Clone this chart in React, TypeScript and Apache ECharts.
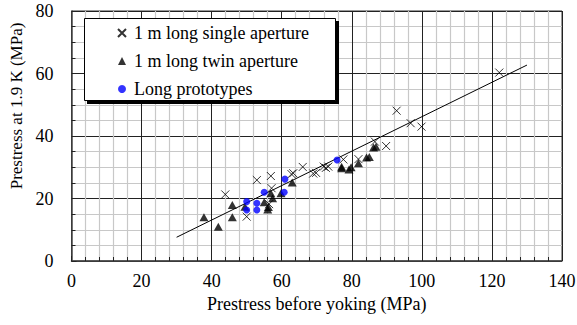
import React, { useEffect, useRef } from "react";
import * as echarts from "echarts";

const xTickValues = [0, 20, 40, 60, 80, 100, 120, 140];
const yTickValues = [0, 20, 40, 60, 80];

const singleAperture: [number, number][] = [
  [43.9, 21.3], [50.0, 14.2], [52.9, 25.9], [56.4, 18.2], [56.9, 27.2],
  [57.1, 23.3], [62.8, 27.8], [63.3, 28.1], [66.0, 30.1], [69.0, 28.0],
  [69.8, 28.2], [72.0, 30.2], [72.6, 29.8], [73.3, 30.2], [77.6, 32.5],
  [81.9, 32.6], [86.6, 38.2], [89.8, 36.8], [92.8, 48.1], [96.8, 44.1],
  [99.9, 43.0], [122.1, 60.3],
];

const twinAperture: [number, number][] = [
  [37.8, 14.0], [41.9, 11.0], [45.9, 17.9], [45.9, 14.0], [49.5, 17.4],
  [55.0, 18.8], [56.0, 16.5], [56.2, 17.3], [56.9, 21.7], [57.4, 20.1],
  [59.8, 21.7], [63.0, 25.1], [77.1, 30.2], [77.1, 29.7], [79.2, 29.3],
  [79.8, 30.0], [81.9, 31.3], [84.2, 33.1], [85.0, 33.3], [86.2, 36.3],
  [86.9, 36.6],
];

const longPrototypes: [number, number][] = [
  [50.0, 19.0], [50.0, 16.3], [52.9, 18.5], [52.9, 16.3], [55.0, 22.0],
  [60.7, 22.0], [60.9, 26.2], [75.8, 32.3],
];

const fitLine: [number, number][] = [
  [30, 7.6], [130, 62.7],
];

const seriesNames = ["1 m long single aperture", "1 m long twin aperture", "Long prototypes"];

const FONT = "'Liberation Serif', 'Times New Roman', Times, serif";

export default function App() {
  const ref = useRef<HTMLDivElement>(null);
  useEffect(() => {
    const chart = echarts.init(ref.current!, null, { renderer: "svg" });
    const gridLeft = 71.5;
    const gridTop = 11;
    const gridW = 490.5;
    const gridH = 250;
    chart.setOption({
      animation: false,
      backgroundColor: "#fff",
      textStyle: { fontFamily: FONT },
      grid: {
        left: gridLeft, top: gridTop, width: gridW, height: gridH,
        outerBoundsMode: "none",
        show: true, borderColor: "#333", borderWidth: 1, backgroundColor: "transparent",
      },
      xAxis: {
        type: "value", min: xTickValues[0], max: xTickValues[xTickValues.length - 1], interval: 20,
        name: "Prestress before yoking (MPa)", nameLocation: "middle", nameGap: 31,
        nameTextStyle: { fontFamily: FONT, fontSize: 18, color: "#000" },
        axisLine: { show: true, lineStyle: { color: "#444", width: 1.5 } },
        axisTick: { show: true, inside: true, length: 5, lineStyle: { color: "#222" } },
        minorTick: { show: true, splitNumber: 5, length: 4, lineStyle: { color: "#222" } },
        axisLabel: { fontFamily: FONT, fontSize: 18, color: "#000", margin: 11 },
        splitLine: { show: true, lineStyle: { color: "#222", width: 1 } },
        minorSplitLine: { show: true, lineStyle: { color: "#c8c8c8", width: 1.2 } },
      },
      yAxis: {
        type: "value", min: yTickValues[0], max: yTickValues[yTickValues.length - 1], interval: 20,
        name: "Prestress at 1.9 K (MPa)", nameLocation: "middle", nameGap: 42,
        nameTextStyle: { fontFamily: FONT, fontSize: 17, color: "#000", padding: [0, 0, 0, 60] },
        axisLine: { show: true, lineStyle: { color: "#444", width: 1.5 } },
        axisTick: { show: true, inside: true, length: 5, lineStyle: { color: "#222" } },
        minorTick: { show: true, splitNumber: 4, length: 4, lineStyle: { color: "#222" } },
        axisLabel: { fontFamily: FONT, fontSize: 18, color: "#000", margin: 18 },
        splitLine: { show: true, lineStyle: { color: "#222", width: 1 } },
        minorSplitLine: { show: true, lineStyle: { color: "#c8c8c8", width: 1.2 } },
      },
      graphic: [
        { type: "rect", shape: { x: 87, y: 21, width: 252, height: 83 }, style: { fill: "#000" }, z: 10 },
        { type: "rect", shape: { x: 84.5, y: 18.5, width: 251, height: 82 }, style: { fill: "#fff", stroke: "#000", lineWidth: 1 }, z: 11 },
      ],
      legend: {
        orient: "vertical", left: 117, top: 24, padding: 0, itemWidth: 8, itemHeight: 8, itemGap: 10,
        z: 20,
        data: seriesNames,
        textStyle: { fontFamily: FONT, fontSize: 18, color: "#000", lineHeight: 18, padding: [0, 0, 0, 3] },
      },
      series: [
        {
          name: seriesNames[0], type: "scatter", data: singleAperture,
          symbol: "path://M0,0L10,10M10,0L0,10", symbolSize: 8,
          itemStyle: { color: "#000", borderColor: "#000", borderWidth: 1 }, z: 5,
        },
        {
          name: seriesNames[1], type: "scatter", data: twinAperture,
          symbol: "triangle", symbolSize: [9, 8],
          itemStyle: { color: "#000" }, z: 6,
        },
        {
          name: seriesNames[2], type: "scatter", data: longPrototypes,
          symbol: "circle", symbolSize: 7,
          itemStyle: { color: "#0000ff" }, z: 7,
        },
        {
          name: "fit", type: "line", data: fitLine, showSymbol: false, symbol: "none",
          lineStyle: { color: "#000", width: 1 }, z: 4, silent: true,
        },
      ],
    });
    return () => chart.dispose();
  }, []);
  return <div ref={ref} style={{ position: "fixed", left: 0, top: 0, width: 577, height: 325 }} />;
}
